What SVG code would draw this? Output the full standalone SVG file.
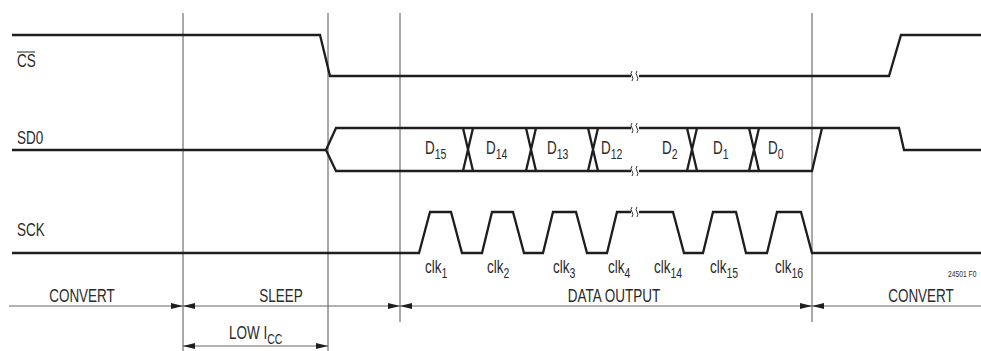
<svg xmlns="http://www.w3.org/2000/svg" width="981" height="351" viewBox="0 0 981 351">
<style>
text{font-family:"Liberation Sans",Arial,sans-serif;font-size:18px;fill:#2a2a2a}
.sub{font-size:14px}
.sig{fill:none;stroke:#1e1e1e;stroke-width:2.3;stroke-linejoin:miter}
.grid{stroke:#555;stroke-width:1}
.dim{stroke:#666;stroke-width:1.2;fill:none}
.brk{fill:none;stroke:#333;stroke-width:1}
.mid{text-anchor:middle}
</style>
<defs>
<marker id="ah" viewBox="0 0 12 6" markerWidth="12" markerHeight="6" refX="12" refY="3" orient="auto-start-reverse" markerUnits="userSpaceOnUse">
<path d="M0,0 L12,3 L0,6 Z" fill="#1e1e1e"/>
</marker>
</defs>
<rect width="981" height="351" fill="#fff"/>
<g id="gridlines">
<line class="grid" x1="183" y1="13" x2="183" y2="351"/>
<line class="grid" x1="328" y1="13" x2="328" y2="351"/>
<line class="grid" x1="400" y1="13" x2="400" y2="322"/>
<line class="grid" x1="812" y1="13" x2="812" y2="322"/>
</g>
<g id="labels">
<text transform="translate(17,67) scale(0.75,1)">CS</text>
<line x1="17" y1="52" x2="35" y2="52" stroke="#222" stroke-width="1"/>
<text transform="translate(17,144) scale(0.75,1)">SD0</text>
<text transform="translate(17,236) scale(0.75,1)">SCK</text>
</g>
<g id="connectors">
<g id="cs-wave">
<polyline class="sig" points="12,35 320,35 330,76 631,76"/>
<polyline class="sig" points="639,76 889,76 901,35 981,35"/>
<path class="brk" d="M632,71 q-2,2.5 0,5 q2,2.5 0,5 M637,71 q-2,2.5 0,5 q2,2.5 0,5"/>
</g>
<g id="sdo-wave">
<polyline class="sig" points="12,150 326,150"/>
<polyline class="sig" points="631,128 336,128 326,150 336,171 631,171"/>
<polyline class="sig" points="639,128 899,128 904,150 981,150"/>
<polyline class="sig" points="639,171 812,171 822,128"/>
<path class="sig" d="M463,128 L473,171 M463,171 L473,128 M526,128 L536,171 M526,171 L536,128 M588,128 L598,171 M588,171 L598,128 M687,128 L697,171 M687,171 L697,128 M749,128 L759,171 M749,171 L759,128"/>
<path class="brk" d="M632,123 q-2,2.5 0,5 q2,2.5 0,5 M637,123 q-2,2.5 0,5 q2,2.5 0,5 M632,166 q-2,2.5 0,5 q2,2.5 0,5 M637,166 q-2,2.5 0,5 q2,2.5 0,5"/>
</g>
<g id="sck-wave">
<polyline class="sig" points="12,253 419,253 430,212 451,212 462,253 482,253 492,212 513,212 524,253 543,253 553,212 576,212 587,253 607,253 617,212 631,212"/>
<polyline class="sig" points="639,212 673,212 684,253 703,253 713,212 736,212 746,253 767,253 777,212 801,212 812,253 981,253"/>
<path class="brk" d="M632,207 q-2,2.5 0,5 q2,2.5 0,5 M637,207 q-2,2.5 0,5 q2,2.5 0,5"/>
</g>
<g id="dimensions">
<line class="dim" x1="9" y1="306" x2="183" y2="306" marker-end="url(#ah)"/>
<line class="dim" x1="183" y1="306" x2="400" y2="306" marker-start="url(#ah)" marker-end="url(#ah)"/>
<line class="dim" x1="400" y1="306" x2="812" y2="306" marker-start="url(#ah)" marker-end="url(#ah)"/>
<line class="dim" x1="812" y1="306" x2="981" y2="306" marker-start="url(#ah)"/>
<line class="dim" x1="183" y1="346" x2="328" y2="346" marker-start="url(#ah)" marker-end="url(#ah)"/>
</g>
</g>
<g id="data-labels">
<text transform="translate(425,154) scale(0.75,1)">D<tspan class="sub" dy="5">15</tspan></text>
<text transform="translate(486,154) scale(0.75,1)">D<tspan class="sub" dy="5">14</tspan></text>
<text transform="translate(547,154) scale(0.75,1)">D<tspan class="sub" dy="5">13</tspan></text>
<text transform="translate(601,154) scale(0.75,1)">D<tspan class="sub" dy="5">12</tspan></text>
<text transform="translate(662,154) scale(0.75,1)">D<tspan class="sub" dy="5">2</tspan></text>
<text transform="translate(713,154) scale(0.75,1)">D<tspan class="sub" dy="5">1</tspan></text>
<text transform="translate(768,154) scale(0.75,1)">D<tspan class="sub" dy="5">0</tspan></text>
</g>
<g id="clk-labels">
<text transform="translate(425,273) scale(0.75,1)">clk<tspan class="sub" dy="5">1</tspan></text>
<text transform="translate(487,273) scale(0.75,1)">clk<tspan class="sub" dy="5">2</tspan></text>
<text transform="translate(553,273) scale(0.75,1)">clk<tspan class="sub" dy="5">3</tspan></text>
<text transform="translate(608,273) scale(0.75,1)">clk<tspan class="sub" dy="5">4</tspan></text>
<text transform="translate(654,273) scale(0.75,1)">clk<tspan class="sub" dy="5">14</tspan></text>
<text transform="translate(710,273) scale(0.75,1)">clk<tspan class="sub" dy="5">15</tspan></text>
<text transform="translate(775,273) scale(0.75,1)">clk<tspan class="sub" dy="5">16</tspan></text>
</g>
<g id="phase-labels">
<text class="mid" transform="translate(82,302) scale(0.75,1)">CONVERT</text>
<text class="mid" transform="translate(281,302) scale(0.75,1)">SLEEP</text>
<text class="mid" transform="translate(614,302) scale(0.75,1)">DATA OUTPUT</text>
<text class="mid" transform="translate(921,302) scale(0.75,1)">CONVERT</text>
<text transform="translate(229,339) scale(0.75,1)">LOW I<tspan class="sub" dy="5">CC</tspan></text>
<text transform="translate(948,277) scale(0.75,1)" style="font-size:9px">24501 F0</text>
</g>
</svg>
